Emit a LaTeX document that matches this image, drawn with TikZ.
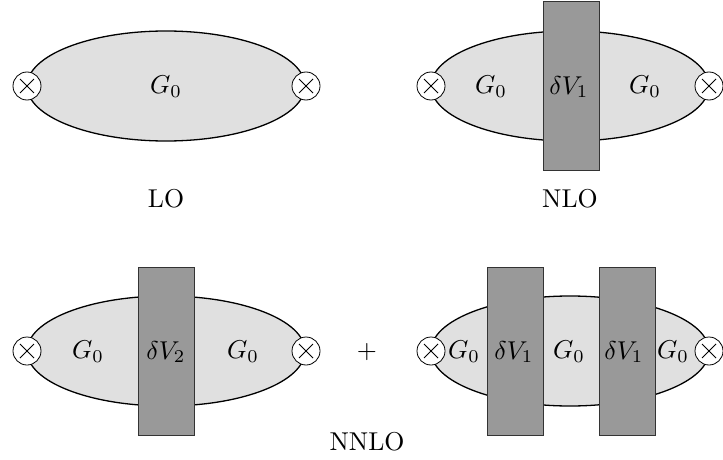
\documentclass[tikz,border=0pt]{standalone}
\definecolor{blobfill}{HTML}{E0E0E0}
\definecolor{boxfill}{HTML}{999999}
\begin{document}
\begin{tikzpicture}[x=1pt,y=-1pt,
  blob/.style={fill=blobfill, draw=black, line width=1.3pt},
  vbox/.style={fill=boxfill, draw=black!80, line width=1pt},
  vertex/.style={circle, draw=black, fill=white, minimum size=28pt, inner sep=0pt, line width=0.8pt,
    path picture={\draw[line width=0.8pt, shorten >=9.9pt, shorten <=9.9pt]
      (path picture bounding box.north west) -- (path picture bounding box.south east);
      \draw[line width=0.8pt, shorten >=9.9pt, shorten <=9.9pt]
      (path picture bounding box.north east) -- (path picture bounding box.south west);}},
  lbl/.style={inner sep=0pt, scale=2.58, transform shape}]
\useasboundingbox (0,0) rectangle (723,460);
% LO
\draw[blob] (166,86) ellipse [x radius=139pt, y radius=55pt];
\node[vertex] (loL) at (27,86) {};
\node[vertex] (loR) at (306,86) {};
\node[lbl] (loG) at (166,87) {$G_0$};
\node[lbl] (loT) at (166,199) {LO};
% NLO
\draw[blob] (570,86) ellipse [x radius=139pt, y radius=55pt];
\draw[vbox] (543,2) rectangle (599,170);
\node[vertex] (nloL) at (431,86) {};
\node[vertex] (nloR) at (709,86) {};
\node[lbl] (nloG1) at (491,87) {$G_0$};
\node[lbl] (nloV) at (569,87) {$\delta V_1$};
\node[lbl] (nloG2) at (645,87) {$G_0$};
\node[lbl] (nloT) at (570,199) {NLO};
% NNLO left
\draw[blob] (166,351) ellipse [x radius=139pt, y radius=55pt];
\draw[vbox] (138,267) rectangle (194,435);
\node[vertex] (aL) at (27,351) {};
\node[vertex] (aR) at (306,351) {};
\node[lbl] (aG1) at (88,352) {$G_0$};
\node[lbl] (aV) at (166,352) {$\delta V_2$};
\node[lbl] (aG2) at (243,352) {$G_0$};
\node[lbl] (plus) at (367,352) {$+$};
% NNLO right
\draw[blob] (570,351) ellipse [x radius=139pt, y radius=55pt];
\draw[vbox] (487,267) rectangle (543,435);
\draw[vbox] (599,267) rectangle (655,435);
\node[vertex] (bL) at (431,351) {};
\node[vertex] (bR) at (709,351) {};
\node[lbl] (bG1) at (464,352) {$G_0$};
\node[lbl] (bV1) at (514,352) {$\delta V_1$};
\node[lbl] (bG2) at (569,352) {$G_0$};
\node[lbl] (bV2) at (624,352) {$\delta V_1$};
\node[lbl] (bG3) at (673,352) {$G_0$};
\node[lbl] (nnloT) at (367,442) {NNLO};
\end{tikzpicture}
\end{document}
